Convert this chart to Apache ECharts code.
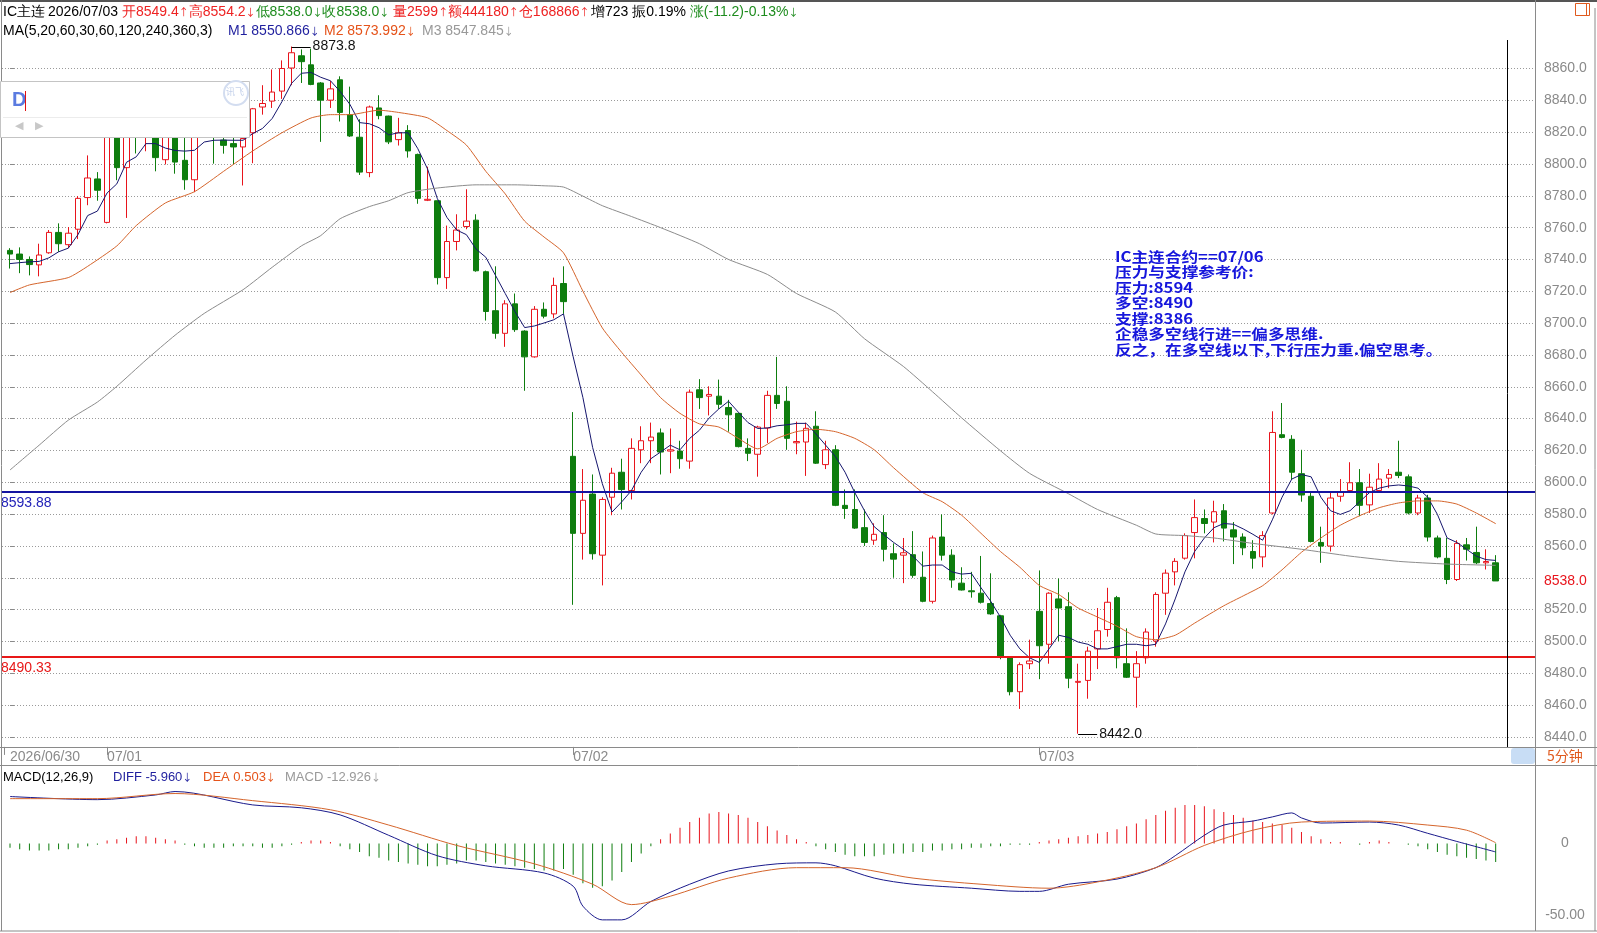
<!DOCTYPE html>
<html lang="zh">
<head>
<meta charset="UTF-8">
<title>IC主连 5分钟</title>
<script src="https://cdn.jsdelivr.net/npm/echarts@6/dist/echarts.min.js"></script>
<style>
  html, body { margin: 0; padding: 0; background: #fff; }
  #main { width: 1597px; height: 933px; }
</style>
</head>
<body>
<div id="main"></div>
<script>
// 5分钟K线：06/30 尾盘 10 根 + 07/01、07/02、07/03 各 48 根
var opens = [
  8745.7, 8743.4, 8740.0, 8736.6, 8744.2, 8757.0, 8749.3, 8759.0, 8778.9, 8790.6,
  8763.3, 8822.0, 8797.7, 8826.0, 8817.0, 8822.0, 8802.7, 8822.0, 8802.3, 8790.1,
  8818.0, 8830.0, 8815.0, 8812.8, 8810.7, 8819.6, 8835.8, 8839.5, 8845.8, 8860.3,
  8868.0, 8862.3, 8850.9, 8840.1, 8852.9, 8831.0, 8816.8, 8794.6, 8835.2, 8830.1,
  8815.3, 8821.0, 8806.0, 8777.2, 8776.9, 8728.6, 8751.3, 8760.7, 8764.7, 8732.3,
  8707.8, 8693.6, 8712.1, 8695.0, 8678.8, 8708.7, 8705.8, 8724.9, 8616.3, 8567.9,
  8592.6, 8554.2, 8590.6, 8606.3, 8594.8, 8620.4, 8626.1, 8631.0, 8619.6, 8619.6,
  8613.3, 8658.1, 8654.1, 8654.1, 8647.0, 8643.3, 8621.3, 8617.6, 8634.1, 8654.6,
  8650.9, 8624.8, 8625.3, 8635.2, 8611.1, 8620.4, 8585.5, 8582.9, 8571.5, 8563.6,
  8568.4, 8555.1, 8554.2, 8554.5, 8540.3, 8525.2, 8565.6, 8554.2, 8536.6, 8531.8,
  8530.3, 8523.8, 8516.1, 8489.7, 8468.4, 8486.0, 8518.9, 8498.2, 8526.7, 8521.8,
  8474.3, 8475.5, 8495.3, 8507.5, 8527.5, 8486.0, 8477.5, 8489.7, 8500.2, 8530.3,
  8543.7, 8552.3, 8568.4, 8577.2, 8575.0, 8582.1, 8570.1, 8565.6, 8556.5, 8553.1,
  8580.7, 8629.9, 8627.0, 8605.4, 8591.2, 8562.2, 8559.9, 8591.2, 8594.8, 8599.7,
  8585.8, 8594.8, 8602.6, 8606.3, 8603.4, 8580.7, 8590.1, 8565.0, 8552.2, 8538.9,
  8560.7, 8555.9, 8549.4, 8549.4
];
var closes = [
  8743.4, 8740.0, 8736.8, 8742.8, 8757.0, 8749.9, 8756.5, 8778.4, 8791.2, 8783.5,
  8818.0, 8797.7, 8818.0, 8820.0, 8824.0, 8804.0, 8820.0, 8801.2, 8790.1, 8819.0,
  8824.0, 8821.0, 8811.7, 8810.7, 8816.0, 8834.7, 8838.0, 8845.2, 8860.0, 8869.9,
  8864.3, 8850.0, 8840.1, 8847.2, 8832.4, 8817.6, 8794.9, 8835.8, 8830.4, 8813.9,
  8819.6, 8808.2, 8778.4, 8777.8, 8728.6, 8751.3, 8758.5, 8764.1, 8732.9, 8707.3,
  8693.6, 8712.1, 8695.9, 8678.8, 8708.7, 8704.4, 8723.7, 8713.5, 8567.9, 8588.7,
  8555.1, 8589.2, 8605.7, 8595.4, 8621.3, 8626.1, 8628.4, 8619.0, 8620.4, 8614.8,
  8656.6, 8653.2, 8655.2, 8649.0, 8642.4, 8622.4, 8618.2, 8634.7, 8654.6, 8649.5,
  8627.6, 8625.6, 8633.9, 8612.0, 8620.4, 8585.5, 8583.5, 8571.2, 8562.2, 8567.3,
  8557.9, 8551.7, 8555.7, 8541.5, 8525.2, 8565.0, 8554.2, 8538.6, 8532.3, 8531.2,
  8524.6, 8517.3, 8490.5, 8468.4, 8485.4, 8487.7, 8497.3, 8530.3, 8521.0, 8476.9,
  8474.9, 8493.9, 8506.7, 8524.6, 8489.7, 8477.5, 8486.0, 8505.9, 8529.5, 8542.9,
  8550.3, 8566.5, 8577.8, 8574.1, 8581.5, 8571.2, 8565.6, 8558.8, 8552.3, 8566.5,
  8631.3, 8628.2, 8606.3, 8592.0, 8562.8, 8559.9, 8590.1, 8594.1, 8599.7, 8585.5,
  8596.9, 8602.0, 8604.9, 8604.3, 8580.7, 8590.1, 8565.6, 8553.1, 8538.9, 8561.6,
  8557.9, 8549.4, 8550.2, 8538.0
];
var lows = [
  8734.3, 8731.4, 8730.0, 8729.4, 8743.6, 8744.8, 8747.1, 8752.8, 8774.1, 8776.9,
  8762.7, 8789.8, 8766.1, 8806.6, 8808.0, 8795.4, 8799.7, 8793.9, 8783.8, 8782.3,
  8817.5, 8800.2, 8806.5, 8800.0, 8786.5, 8800.5, 8831.0, 8835.2, 8840.9, 8849.5,
  8850.9, 8849.5, 8813.9, 8835.2, 8826.7, 8817.0, 8793.1, 8791.7, 8828.1, 8812.5,
  8811.6, 8804.0, 8775.0, 8776.7, 8724.3, 8721.5, 8745.7, 8759.0, 8732.3, 8701.6,
  8690.2, 8685.1, 8694.5, 8657.5, 8678.3, 8703.0, 8703.0, 8705.8, 8523.0, 8551.4,
  8551.4, 8535.2, 8579.3, 8582.9, 8589.2, 8612.0, 8612.0, 8604.9, 8605.7, 8608.5,
  8608.5, 8646.1, 8642.0, 8646.1, 8631.8, 8621.9, 8613.3, 8603.5, 8624.7, 8646.1,
  8620.4, 8617.6, 8604.0, 8611.5, 8608.3, 8585.0, 8577.0, 8570.7, 8560.0, 8560.7,
  8550.3, 8540.0, 8536.6, 8540.0, 8524.6, 8523.8, 8550.8, 8533.7, 8532.0, 8527.5,
  8523.8, 8516.7, 8488.8, 8466.1, 8457.6, 8482.6, 8476.3, 8486.0, 8500.2, 8470.6,
  8442.0, 8464.0, 8482.6, 8503.0, 8483.1, 8477.0, 8458.4, 8486.0, 8496.7, 8516.7,
  8535.2, 8551.4, 8552.2, 8567.9, 8562.2, 8562.8, 8548.6, 8554.2, 8545.7, 8546.6,
  8579.8, 8627.6, 8601.5, 8587.8, 8562.2, 8549.4, 8556.5, 8587.8, 8593.5, 8578.7,
  8580.7, 8593.5, 8596.3, 8602.6, 8579.8, 8579.3, 8562.8, 8552.2, 8536.0, 8538.0,
  8550.8, 8548.6, 8545.2, 8538.0
];
var highs = [
  8747.1, 8747.6, 8741.9, 8749.9, 8758.5, 8762.7, 8760.4, 8779.8, 8805.4, 8794.9,
  8822.0, 8826.0, 8826.0, 8830.0, 8828.0, 8826.0, 8824.0, 8827.0, 8818.0, 8825.0,
  8830.0, 8834.0, 8820.0, 8818.0, 8821.0, 8835.2, 8849.5, 8859.4, 8865.1, 8873.8,
  8872.0, 8872.5, 8851.5, 8852.3, 8855.1, 8848.6, 8828.1, 8836.7, 8843.2, 8830.4,
  8829.0, 8824.4, 8806.5, 8798.3, 8777.0, 8761.3, 8768.4, 8784.1, 8768.4, 8733.0,
  8735.7, 8714.4, 8718.6, 8695.5, 8710.7, 8713.0, 8728.6, 8735.7, 8644.1, 8608.3,
  8604.9, 8590.6, 8609.1, 8614.8, 8627.6, 8635.2, 8637.5, 8633.8, 8633.8, 8626.1,
  8658.3, 8664.8, 8660.3, 8664.5, 8651.8, 8643.5, 8627.6, 8635.5, 8657.5, 8678.8,
  8660.3, 8638.1, 8637.5, 8644.6, 8626.1, 8623.3, 8595.5, 8595.5, 8582.9, 8574.2,
  8579.3, 8561.6, 8565.0, 8569.3, 8556.5, 8566.5, 8579.8, 8557.9, 8546.6, 8543.7,
  8553.7, 8542.8, 8516.7, 8490.0, 8486.8, 8501.1, 8544.6, 8530.9, 8539.5, 8530.9,
  8486.0, 8496.7, 8521.0, 8533.7, 8528.6, 8508.2, 8493.9, 8508.2, 8530.9, 8545.2,
  8552.3, 8567.9, 8589.2, 8582.9, 8588.4, 8586.3, 8575.0, 8567.9, 8563.6, 8569.3,
  8644.6, 8649.8, 8629.6, 8620.4, 8593.5, 8572.1, 8593.5, 8602.0, 8612.6, 8608.3,
  8605.4, 8612.0, 8608.3, 8626.1, 8604.9, 8592.1, 8592.1, 8566.5, 8565.0, 8563.6,
  8565.0, 8572.1, 8557.9, 8554.2
];

// M1 均线（逐根读数）
var ma1 = [
  8737.4, 8738.0, 8738.5, 8738.8, 8741.0, 8744.8, 8747.1, 8755.6, 8767.6, 8770.4,
  8781.8, 8787.5, 8801.1, 8804.5, 8812.8, 8812.8, 8810.0, 8808.5, 8808.1, 8808.6,
  8813.8, 8814.9, 8815.0, 8814.9, 8814.9, 8819.1, 8822.3, 8828.6, 8839.1, 8850.7,
  8857.0, 8857.5, 8854.5, 8852.3, 8845.5, 8837.5, 8826.0, 8825.3, 8822.8, 8818.3,
  8819.6, 8819.6, 8809.6, 8796.9, 8778.4, 8766.4, 8758.5, 8755.6, 8746.5, 8741.4,
  8730.0, 8718.6, 8707.3, 8697.2, 8698.2, 8700.1, 8702.1, 8705.8, 8678.8, 8653.2,
  8621.9, 8599.1, 8581.3, 8587.7, 8594.8, 8606.3, 8614.8, 8619.0, 8623.3, 8620.4,
  8627.6, 8632.7, 8640.4, 8646.1, 8650.9, 8644.1, 8637.5, 8633.8, 8634.1, 8635.5,
  8636.1, 8637.0, 8637.0, 8630.4, 8623.3, 8616.2, 8606.3, 8593.5, 8582.1, 8572.1,
  8567.0, 8562.2, 8557.9, 8553.5, 8547.3, 8548.0, 8548.0, 8543.7, 8542.3, 8542.8,
  8533.7, 8525.2, 8515.3, 8503.9, 8495.3, 8489.7, 8486.8, 8495.3, 8503.9, 8502.5,
  8499.6, 8498.2, 8495.3, 8495.3, 8496.7, 8498.2, 8498.2, 8497.3, 8498.2, 8511.0,
  8526.7, 8543.7, 8556.5, 8565.0, 8571.5, 8574.1, 8573.6, 8570.7, 8567.3, 8563.6,
  8576.4, 8590.6, 8602.0, 8604.9, 8603.4, 8590.6, 8582.1, 8579.8, 8582.1, 8587.8,
  8593.5, 8596.3, 8597.7, 8598.3, 8597.7, 8596.3, 8590.6, 8579.8, 8565.0, 8562.2,
  8557.9, 8553.6, 8551.4, 8550.9
];
// M2、M3 均线：[K线序号, 读数]
var ma2Pts = [
  [0, 8719.2], [2, 8724.0], [6, 8728.6], [8, 8735.7], [11, 8748.5], [13, 8761.3], [16, 8775.5],
  [19, 8782.6], [22, 8795.4], [25, 8808.2], [28, 8819.6], [31, 8828.9], [33, 8831.0], [35, 8831.0],
  [38, 8833.8], [40, 8832.4], [43, 8829.0], [45, 8821.0], [47, 8811.9], [49, 8795.4], [51, 8781.2],
  [53, 8764.1], [55, 8754.1], [57, 8744.2], [59, 8720.1], [61, 8697.0], [63, 8681.6], [65, 8667.4],
  [67, 8653.2], [69, 8643.3], [71, 8636.7], [73, 8634.7], [75, 8627.6], [77, 8621.0], [79, 8627.6],
  [81, 8631.8], [83, 8633.3], [85, 8631.8], [87, 8627.6], [89, 8620.4], [91, 8609.1], [94, 8593.5],
  [96, 8587.8], [98, 8579.3], [100, 8567.9], [102, 8556.5], [104, 8546.6], [106, 8535.2], [108, 8529.5],
  [110, 8521.0], [112, 8515.3], [114, 8509.6], [116, 8503.0], [118, 8501.1], [120, 8503.9], [122, 8511.5],
  [125, 8522.4], [127, 8528.6], [129, 8535.0], [131, 8545.0], [133, 8556.0], [135, 8565.0], [137, 8573.0],
  [139, 8579.0], [141, 8584.0], [143, 8587.0], [145, 8588.3], [147, 8588.3], [149, 8586.3], [151, 8580.7],
  [153, 8574.0]
];
var ma3Pts = [
  [0, 8607.7], [3, 8623.3], [6, 8639.0], [9, 8650.4], [11, 8660.3], [14, 8676.8], [17, 8692.4],
  [20, 8706.1], [24, 8721.0], [27, 8735.1], [30, 8748.5], [32, 8755.0], [34, 8765.6], [37, 8773.2],
  [39, 8776.9], [41, 8782.0], [44, 8784.9], [48, 8786.9], [52, 8786.9], [55, 8786.3], [57, 8785.5],
  [59, 8779.8], [61, 8773.8], [64, 8767.0], [67, 8760.0], [71, 8749.9], [74, 8740.0], [78, 8730.6],
  [81, 8718.6], [85, 8707.0], [88, 8690.2], [92, 8672.8], [95, 8656.9], [98, 8640.5], [102, 8619.8],
  [105, 8605.6], [109, 8592.8], [112, 8582.9], [116, 8573.0], [118, 8567.5], [121, 8566.5], [124, 8565.0],
  [128, 8561.6], [133, 8557.9], [138, 8553.6], [143, 8550.3], [148, 8548.6], [153, 8547.8]
];

// MACD 柱（逐根读数）与 DIFF / DEA 线
var macdBars = [
  -3, -4, -5, -5, -5, -4, -4, -3, -2, -1,
  2, 3, 4, 5, 5, 4, 3, 2,
  -1, -2, -3, -3, -3, -2, -2, -2, -3, -3, -2, -1, 1, 2, 2, 1,
  -2, -4, -6, -9, -10, -12, -13, -14, -15, -16, -16, -15, -14, -12, -12, -13, -14, -15, -16, -17, -18, -19, -19, -18,
  -22, -28, -31, -30, -26, -20, -13, -7, -2,
  3, 7, 11, 15, 18, 21, 22, 21, 20, 18, 15, 12, 9, 6, 3, 1,
  -2, -4, -6, -8, -9, -9, -9, -8, -7, -7, -6, -6, -5, -5, -4, -4, -3, -3, -2, -2, -1, -1, -1,
  1, 2, 3, 4, 5, 6, 7, 8, 10, 12, 14, 17, 20, 23, 25, 27, 27, 26, 24, 22, 20, 18, 16, 15, 14, 13, 11, 8, 5,
  3, 1, 1, 0, -1, 1, 2, 1, 0, -1, -2,
  -4, -6, -8, -9, -10, -11, -12, -13
];
var diffPts = [
  [0, 32.9], [9, 30.7], [15, 34.0], [17, 36.4], [25, 27.0], [30, 25.0], [34, 20.0], [39, 5.7],
  [44, -8.6], [49, -15.7], [55, -20.7], [58, -30.0], [59, -44.0], [61, -53.6], [63, -53.6], [66, -40.7],
  [70, -28.6], [74, -19.3], [79, -14.3], [83, -13.6], [85, -15.7], [89, -24.3], [93, -28.6], [99, -31.4],
  [104, -33.6], [106, -33.6], [109, -28.6], [114, -25.0], [118, -17.0], [120, -8.6], [123, 5.7], [125, 12.9],
  [128, 15.7], [130, 18.6], [132, 21.4], [133, 17.9], [135, 14.3], [140, 15.0], [143, 12.9], [146, 7.1],
  [149, 1.4], [153, -5.96]
];
var deaPts = [
  [0, 31.4], [9, 31.4], [17, 35.0], [25, 30.0], [33, 23.6], [39, 12.9], [46, -1.4], [54, -14.3],
  [60, -28.6], [64, -42.9], [68, -37.0], [74, -24.3], [81, -17.0], [86, -17.0], [93, -24.3], [100, -28.6],
  [107, -31.4], [112, -27.0], [118, -17.0], [123, -1.4], [128, 9.3], [133, 15.0], [140, 15.7], [146, 12.9],
  [150, 9.3], [153, 0.503]
];

var dateTickIdx = [0, 10, 58, 106];
var dateTickText = ['2026/06/30', '07/01', '07/02', '07/03'];
var pressureLine = 8593.88;
var pivotLine = 8490.33;
var noteLines = [
  'IC主连合约==07/06',
  '压力与支撑参考价:',
  '压力:8594',
  '多空:8490',
  '支撑:8386',
  '企稳多空线行进==偏多思维.',
  '反之，在多空线以下,下行压力重.偏空思考。'
];

var UP = '#E8141C', DOWN = '#0E7D0E';
var FONT = '"Liberation Sans", Arial, sans-serif';
var CJK = '"Noto Sans CJK SC", sans-serif';

var candles = opens.map(function (o, i) { return [i, o, closes[i], lows[i], highs[i]]; });
var n = candles.length;
var last = n - 1;
var hiIdx = 0, loIdx = 0;
for (var i = 1; i < n; i++) {
  if (highs[i] > highs[hiIdx]) hiIdx = i;
  if (lows[i] < lows[loIdx]) loIdx = i;
}

var myChart = echarts.init(document.getElementById('main'), null, { renderer: 'canvas' });

var RED = '#EE2222', GRN = '#1E8C1E', NAVY = '#1F1F9E', ORG = '#E5531A', GRY = '#999999', BLK = '#000';

// 多色文本：parts 为 [文字, 颜色] 列表，箭头用窄一点的 CJK 字形
function rich(x, y, parts, size) {
  var fs = size || 14;
  var styles = {}, text = '';
  parts.forEach(function (p, k) {
    styles['c' + k] = { fill: p[1], font: fs + 'px ' + FONT };
    styles['a' + k] = { fill: p[1], font: '10px ' + CJK };
    text += p[0].split(/([↑↓])/).map(function (s) {
      if (!s) return '';
      return (s === '↑' || s === '↓') ? '{a' + k + '|' + s + '}' : '{c' + k + '|' + s + '}';
    }).join('');
  });
  return { type: 'text', x: x, y: y, z: 60, silent: true,
           style: { text: text, rich: styles, font: fs + 'px ' + FONT, verticalAlign: 'middle' } };
}
function seg(x, y, text, color, size) { return rich(x, y, [[text, color]], size); }
function ln(x1, y1, x2, y2, color, w) {
  return { type: 'line', silent: true, z: 50, shape: { x1: x1, y1: y1, x2: x2, y2: y2 },
           style: { stroke: color, lineWidth: w || 1 } };
}

var graphics = [
  // 外框与分隔线
  ln(0, 1, 1597, 1, '#555', 2),
  ln(1.5, 0, 1.5, 931, '#8a8a8a'),
  ln(0, 747.5, 1597, 747.5, '#8a8a8a'),
  ln(0, 765.5, 1597, 765.5, '#8a8a8a'),
  ln(0, 931, 1597, 931, '#8a8a8a'),
  ln(1535.5, 0, 1535.5, 931, '#8a8a8a'),
  ln(1595, 8, 1595, 931, '#8a8a8a'),
  ln(1507.5, 40, 1507.5, 747, '#000'),
  // 第一行行情
  seg(3, 12, 'IC主连', BLK),
  rich(48, 12, [
    ['2026/07/03 ', BLK],
    ['开' + opens[last].toFixed(1) + '↑高' + highs[last].toFixed(1) + '↓', RED],
    ['低' + lows[last].toFixed(1) + '↓收' + closes[last].toFixed(1) + '↓', GRN]
  ]),
  seg(393, 12, '量2599↑额444180↑仓168866↑', RED),
  rich(591, 12, [['增723 振0.19% ', BLK], ['涨(-11.2)-0.13%↓', GRN]]),
  // 第二行均线
  seg(3, 31, 'MA(5,20,60,30,60,120,240,360,3)', BLK),
  seg(228, 31, 'M1 8550.866↓', NAVY),
  seg(324, 31, 'M2 8573.992↓', ORG),
  seg(422, 31, 'M3 8547.845↓', GRY),
  // MACD 标题
  seg(3, 777, 'MACD(12,26,9)', BLK, 13),
  seg(113, 777, 'DIFF -5.960↓', NAVY, 13),
  seg(203, 777, 'DEA 0.503↓', ORG, 13),
  seg(285, 777, 'MACD -12.926↓', GRY, 13),
  // 文字批注
  {
    type: 'text', x: 1115, y: 249, scaleX: 1.19, z: 60, silent: true,
    style: { text: noteLines.join('\n'), fill: '#1616DC', lineHeight: 15.45, font: 'bold 14px ' + CJK }
  },
  // 左上角输入框（独立图层，盖住下方K线）
  { type: 'rect', zlevel: 1, z: 100, silent: true, shape: { x: 0.5, y: 81.5, width: 249, height: 56 },
    style: { fill: '#fff', stroke: '#c4c4c4', lineWidth: 1 } },
  { type: 'line', zlevel: 1, z: 101, silent: true, shape: { x1: 3, y1: 117.5, x2: 247, y2: 117.5 },
    style: { stroke: '#ececec' } },
  { type: 'text', zlevel: 1, z: 101, silent: true, x: 12, y: 90,
    style: { text: 'D', font: 'bold 20px ' + FONT, fill: '#5B7BE0' } },
  { type: 'line', zlevel: 1, z: 101, silent: true, shape: { x1: 25.5, y1: 91, x2: 25.5, y2: 111 },
    style: { stroke: '#E01010' } },
  { type: 'text', zlevel: 1, z: 101, silent: true, x: 15, y: 121,
    style: { text: '◀', font: '11px "DejaVu Sans"', fill: '#c8c8c8' } },
  { type: 'text', zlevel: 1, z: 101, silent: true, x: 35, y: 121,
    style: { text: '▶', font: '11px "DejaVu Sans"', fill: '#c8c8c8' } },
  { type: 'circle', zlevel: 1, z: 101, silent: true, shape: { cx: 236, cy: 93, r: 12 },
    style: { fill: 'none', stroke: '#d3ddf0', lineWidth: 2 } },
  { type: 'text', zlevel: 1, z: 101, silent: true, x: 226, y: 87,
    style: { text: '讯飞', font: '9px ' + CJK, fill: '#c3d0ea' } },
  // 周期标签与右上角图标
  { type: 'rect', z: 60, silent: true, shape: { x: 1511, y: 748, width: 24, height: 16, r: 3 },
    style: { fill: '#C8DDF5' } },
  { type: 'text', z: 60, silent: true, x: 1547, y: 756,
    style: { text: '5分钟', font: '14px ' + CJK, fill: '#E05A1E', verticalAlign: 'middle' } },
  { type: 'rect', z: 60, silent: true, shape: { x: 1575.5, y: 3.5, width: 14, height: 12 },
    style: { fill: 'none', stroke: '#E05A1E', lineWidth: 1 } },
  ln(1586.5, 3.5, 1586.5, 15.5, '#E05A1E')
];

var option = {
  backgroundColor: '#fff',
  animation: false,
  grid: [
    { left: 2, right: 62, top: 68.5, height: 668.4 },
    { left: 2, right: 62, top: 765, height: 165 }
  ],
  xAxis: [
    {
      type: 'value', gridIndex: 0, min: -0.824, max: 157.05, offset: 10,
      axisLine: { show: false },
      splitLine: { show: false },
      axisTick: { customValues: [-0.62, 10, 58, 106], length: 8, lineStyle: { color: '#8a8a8a' } },
      axisLabel: {
        customValues: dateTickIdx, align: 'left', margin: 3, color: '#8a8a8a', fontSize: 14,
        fontFamily: FONT,
        formatter: function (v) { return dateTickText[dateTickIdx.indexOf(Math.round(v))] || ''; }
      }
    },
    { type: 'value', gridIndex: 1, min: -0.824, max: 157.05, show: false }
  ],
  yAxis: [
    {
      type: 'value', gridIndex: 0, position: 'right', min: 8440, max: 8860, interval: 20,
      axisLine: { show: false },
      axisTick: { show: true, length: 4, lineStyle: { color: '#8a8a8a' } },
      splitLine: { show: true, lineStyle: { color: '#9a9a9a', type: [1, 2] } },
      axisLabel: { margin: 9, color: '#8a8a8a', fontSize: 14, fontFamily: FONT,
                   formatter: function (v) { return v.toFixed(1); } }
    },
    {
      type: 'value', gridIndex: 1, position: 'right', min: -60.7, max: 55,
      axisLine: { show: false },
      splitLine: { show: false },
      axisTick: { show: false },
      axisLabel: { customValues: [0, -50], align: 'center', margin: 30, color: '#8a8a8a', fontSize: 14,
                   fontFamily: FONT,
                   formatter: function (v) { return v === 0 ? '0' : v.toFixed(2); } }
    }
  ],
  series: [
    {
      name: 'K', type: 'candlestick', xAxisIndex: 0, yAxisIndex: 0,
      encode: { x: 0, y: [1, 2, 3, 4] },
      data: candles, barWidth: 6, clip: false,
      itemStyle: { color: '#ffffff', color0: DOWN, borderColor: UP, borderColor0: DOWN, borderWidth: 1 },
      markLine: {
        silent: true, symbol: ['none', 'none'], animation: false,
        data: [
          { yAxis: pressureLine, lineStyle: { color: '#1414A0', width: 2, type: 'solid' },
            label: { position: 'insideStartBottom', formatter: pressureLine.toFixed(2), color: '#2323B8',
                     fontSize: 14, fontFamily: FONT, distance: [-1, 4] } },
          { yAxis: pivotLine, lineStyle: { color: '#E81818', width: 2, type: 'solid' },
            label: { position: 'insideStartBottom', formatter: pivotLine.toFixed(2), color: '#E81818',
                     fontSize: 14, fontFamily: FONT, distance: [-1, 4] } },
          { yAxis: closes[last], lineStyle: { width: 0, color: 'rgba(0,0,0,0)' },
            label: { show: true, position: 'end', formatter: closes[last].toFixed(1), color: UP, fontSize: 14,
                     fontFamily: FONT, distance: 9, backgroundColor: '#fff', padding: [2, 3, 2, 0] } }
        ]
      }
    },
    {
      name: 'M1', type: 'line', xAxisIndex: 0, yAxisIndex: 0, symbol: 'none', clip: false,
      data: ma1.map(function (v, i) { return [i, v]; }),
      lineStyle: { color: '#16166E', width: 1 }, z: 3
    },
    {
      name: 'M2', type: 'line', xAxisIndex: 0, yAxisIndex: 0, symbol: 'none', clip: false, smooth: 0.2,
      data: ma2Pts, lineStyle: { color: '#D5652C', width: 1 }, z: 3
    },
    {
      name: 'M3', type: 'line', xAxisIndex: 0, yAxisIndex: 0, symbol: 'none', clip: false, smooth: 0.2,
      data: ma3Pts, lineStyle: { color: '#8c8c8c', width: 1 }, z: 3
    },
    {
      name: 'MACD', type: 'bar', xAxisIndex: 1, yAxisIndex: 1, barWidth: 1,
      data: macdBars.map(function (v, i) { return [i, v]; }),
      itemStyle: { color: function (p) { return p.value[1] >= 0 ? UP : DOWN; } }
    },
    {
      name: 'DIFF', type: 'line', xAxisIndex: 1, yAxisIndex: 1, symbol: 'none', smooth: 0.3,
      data: diffPts, lineStyle: { color: '#1A1A8C', width: 1 }
    },
    {
      name: 'DEA', type: 'line', xAxisIndex: 1, yAxisIndex: 1, symbol: 'none', smooth: 0.3,
      data: deaPts, lineStyle: { color: '#D5652C', width: 1 }
    }
  ],
  graphic: graphics
};

myChart.setOption(option);

// 最高/最低价标注：位置由坐标轴换算
var finder = { xAxisIndex: 0, yAxisIndex: 0 };
[[hiIdx, highs[hiIdx]], [loIdx, lows[loIdx]]].forEach(function (pt) {
  var p = myChart.convertToPixel(finder, pt);
  graphics.push(ln(p[0], Math.round(p[1]) + 0.5, p[0] + 19, Math.round(p[1]) + 0.5, '#000'));
  graphics.push(seg(p[0] + 21, p[1], pt[1].toFixed(1), '#111'));
});
myChart.setOption(option, true);
</script>
</body>
</html>
